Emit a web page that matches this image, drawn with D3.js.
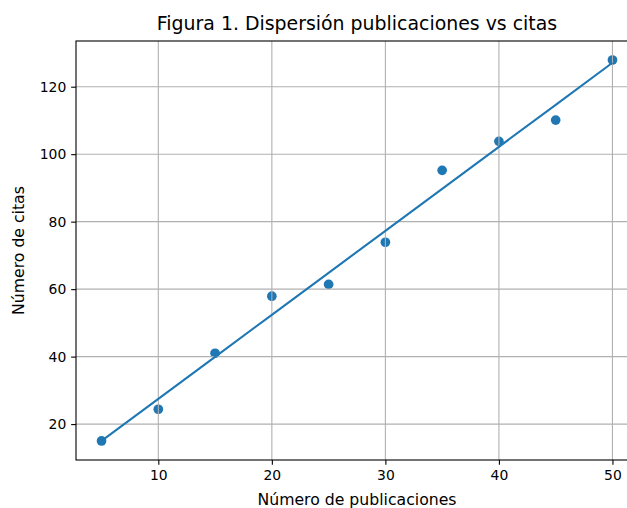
<!DOCTYPE html>
<html>
<head>
<meta charset="utf-8">
<script src="https://cdn.jsdelivr.net/npm/d3@7"></script>
<style>
html,body{margin:0;padding:0;background:#fff;overflow:hidden;}
text{font-family:"DejaVu Sans",sans-serif;fill:#000;}
</style>
</head>
<body>
<svg id="chart" width="627" height="508"></svg>
<script>
const publicaciones = [5, 10, 15, 20, 25, 30, 35, 40, 45, 50];
const citas = [15.0, 24.4, 41.0, 57.9, 61.4, 73.9, 95.2, 103.8, 110.1, 127.9];
const xTicks = [10, 20, 30, 40, 50];
const yTicks = [20, 40, 60, 80, 100, 120];
const titulo = "Figura 1. Dispersión publicaciones vs citas";
const xLabel = "Número de publicaciones";
const yLabel = "Número de citas";

const blue = "#1f77b4";
const svg = d3.select("#chart");
const L = 76, R = 638, T = 41, B = 460;

// least squares fit
const mx = d3.mean(publicaciones), my = d3.mean(citas);
const slope = d3.sum(publicaciones, (x, i) => (x - mx) * (citas[i] - my)) / d3.sum(publicaciones, x => (x - mx) ** 2);
const intercept = my - slope * mx;
const fit = publicaciones.map(x => intercept + slope * x);

const xExt = d3.extent(publicaciones);
const yExt = d3.extent(citas.concat(fit));
const xPad = (xExt[1] - xExt[0]) * 0.05, yPad = (yExt[1] - yExt[0]) * 0.05;
const x = d3.scaleLinear().domain([xExt[0] - xPad, xExt[1] + xPad]).range([L, R]);
const y = d3.scaleLinear().domain([yExt[0] - yPad, yExt[1] + yPad]).range([B, T]);

// points (below grid, like matplotlib zorder)
svg.append("g").selectAll("circle").data(publicaciones).join("circle")
  .attr("cx", d => x(d)).attr("cy", (d, i) => y(citas[i]))
  .attr("r", 4.85).attr("fill", blue);

// grid
const grid = svg.append("g").attr("stroke", "#b0b0b0").attr("stroke-width", 1.1);
grid.selectAll("line.vx").data(xTicks).join("line")
  .attr("x1", d => x(d)).attr("x2", d => x(d)).attr("y1", T).attr("y2", B);
grid.selectAll("line.hy").data(yTicks).join("line").attr("class", "hy")
  .attr("y1", d => y(d)).attr("y2", d => y(d)).attr("x1", L).attr("x2", R);

// fit line
svg.append("path")
  .datum(publicaciones.map((xv, i) => [xv, fit[i]]))
  .attr("d", d3.line().x(d => x(d[0])).y(d => y(d[1])))
  .attr("fill", "none").attr("stroke", blue).attr("stroke-width", 2.08);

// axes
const xAxis = svg.append("g").attr("transform", `translate(0,${B})`)
  .call(d3.axisBottom(x).tickValues(xTicks).tickSize(4.86).tickPadding(4.9).tickFormat(d3.format("d")));
const yAxis = svg.append("g").attr("transform", `translate(${L},0)`)
  .call(d3.axisLeft(y).tickValues(yTicks).tickSize(4.86).tickPadding(4.9).tickFormat(d3.format("d")));
[xAxis, yAxis].forEach(a => {
  a.select(".domain").remove();
  a.selectAll(".tick line").attr("stroke", "#000").attr("stroke-width", 1.1);
  a.selectAll(".tick text").attr("font-size", "13.9px").attr("font-family", "DejaVu Sans").attr("fill", "#000");
});

// spines
svg.append("rect").attr("x", L).attr("y", T).attr("width", R - L).attr("height", B - T)
  .attr("fill", "none").attr("stroke", "#000").attr("stroke-width", 1.1);

// texts
svg.append("text").attr("x", (L + R) / 2).attr("y", 30).attr("text-anchor", "middle")
  .attr("font-size", "18.9px").text(titulo);
svg.append("text").attr("x", (L + R) / 2).attr("y", 505).attr("text-anchor", "middle")
  .attr("font-size", "15.7px").text(xLabel);
svg.append("text").attr("transform", `translate(24,${(T + B) / 2}) rotate(-90)`).attr("text-anchor", "middle")
  .attr("font-size", "15.7px").text(yLabel);
</script>
</body>
</html>
